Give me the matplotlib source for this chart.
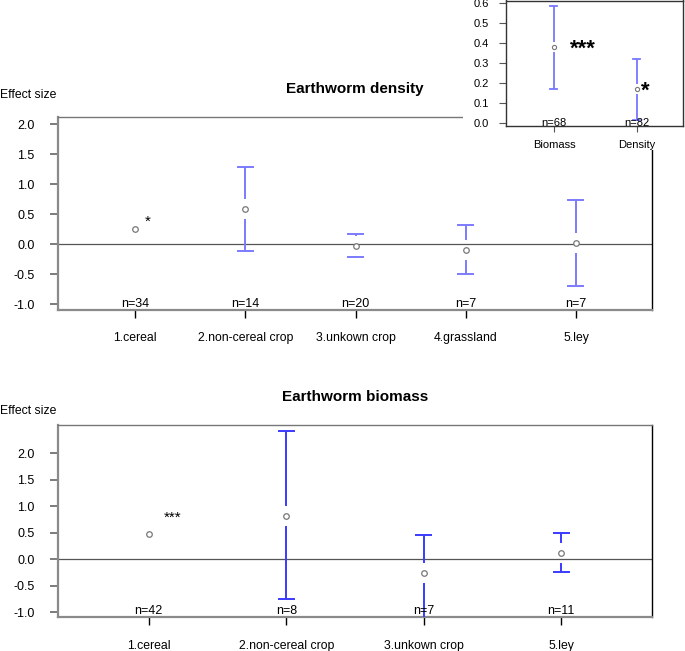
import matplotlib
matplotlib.use('Agg')
import matplotlib.pyplot as plt
import numpy as np
from matplotlib.transforms import blended_transform_factory
from matplotlib.patches import Rectangle

plt.rcParams['font.family'] = ['Liberation Sans', 'DejaVu Sans']

# ---------------- data ----------------
dens_cats = ['1.cereal', '2.non-cereal crop', '3.unkown crop', '4.grassland', '5.ley']
dens_mean = [0.25, 0.59, -0.04, -0.10, 0.02]
dens_lo = [0.09, -0.115, -0.22, -0.50, -0.70]
dens_hi = [0.41, 1.29, 0.16, 0.31, 0.73]
dens_n = [34, 14, 20, 7, 7]
dens_sig = ['*', '', '', '', '']

bio_cats = ['1.cereal', '2.non-cereal crop', '3.unkown crop', '5.ley']
bio_mean = [0.48, 0.81, -0.27, 0.12]
bio_lo = [0.30, -0.75, -1.25, -0.245]
bio_hi = [0.66, 2.41, 0.45, 0.50]
bio_n = [42, 8, 7, 11]
bio_sig = ['***', '', '', '']

ov_cats = ['Biomass', 'Density']
ov_mean = [0.38, 0.17]
ov_lo = [0.168, 0.016]
ov_hi = [0.584, 0.319]
ov_n = [68, 82]
ov_sig = ['***', '*']

W, H = 685, 651
fig = plt.figure(figsize=(W / 100, H / 100), dpi=100)


def draw_ci(ax, x, mean, lo, hi, gap_px, color, capw_px, lw):
    inv = ax.transData.inverted()
    ylo_lim = ax.get_ylim()[0]
    for xi, m, l, h in zip(x, mean, lo, hi):
        px, py = ax.transData.transform((xi, m))
        _, up_start = inv.transform((px, py + gap_px))
        _, dn_start = inv.transform((px, py - gap_px))
        xl = inv.transform((px - capw_px / 2, py))[0]
        xr = inv.transform((px + capw_px / 2, py))[0]
        if h > up_start:
            ax.plot([xi, xi], [up_start, h], color=color, lw=lw, zorder=3,
                    solid_capstyle='butt')
            ax.plot([xl, xr], [h, h], color=color, lw=lw, zorder=3)
        if l < dn_start:
            ax.plot([xi, xi], [dn_start, max(l, ylo_lim)], color=color, lw=lw, zorder=3,
                    solid_capstyle='butt')
            if l >= ylo_lim:
                ax.plot([xl, xr], [l, l], color=color, lw=lw, zorder=3)


def setup_main(ax, cats, ylim, xlim, title):
    x = np.arange(1, len(cats) + 1)
    ax.set_xlim(*xlim)
    ax.set_ylim(*ylim)
    ax.set_xticks(x)
    ax.set_xticklabels(cats, fontsize=8.8)
    ax.set_yticks([-1.0, -0.5, 0.0, 0.5, 1.0, 1.5, 2.0])
    ax.set_yticklabels(['-1.0', '-0.5', '0.0', '0.5', '1.0', '1.5', '2.0'], fontsize=9)
    ax.tick_params(axis='y', length=6, width=1.2, color='#666666', pad=11)
    ax.tick_params(axis='x', length=6, width=1.0, color='black', pad=10)
    for s in ['left', 'bottom']:
        ax.spines[s].set_color('#8a8a8a')
        ax.spines[s].set_linewidth(1.6)
    ax.spines['top'].set_color('#777777')
    ax.spines['top'].set_linewidth(1.0)
    ax.spines['right'].set_color('black')
    ax.spines['right'].set_linewidth(1.0)
    ax.axhline(0, color='#555555', lw=0.9, zorder=1)
    ax.set_title(title, fontsize=11, fontweight='bold', pad=17)
    return x


# ---------- Top panel: density ----------
ax1 = fig.add_axes([58 / W, 1 - 310 / H, (652 - 58) / W, (310 - 117) / H])
x1 = setup_main(ax1, dens_cats, (-1.1, 2.12), (0.3, 5.69), 'Earthworm density')
ax1.plot(x1, dens_mean, 'o', mfc='white', mec='#777777', ms=4, mew=0.9, zorder=4)
draw_ci(ax1, x1, dens_mean, dens_lo, dens_hi, 10, '#7b7bff', 15, 1.4)
tr1 = blended_transform_factory(ax1.transData, ax1.transAxes)
for xi, n in zip(x1, dens_n):
    ax1.text(xi, 0.03, f'n={n}', transform=tr1, ha='center', va='center', fontsize=9)
for xi, m, s in zip(x1, dens_mean, dens_sig):
    if s:
        ax1.text(xi + 0.11, m + 0.13, s, ha='center', va='center', fontsize=11)
fig.text(0.0, 1 - 95 / H, 'Effect size', fontsize=8.8, ha='left', va='center')

# ---------- Bottom panel: biomass ----------
ax2 = fig.add_axes([58 / W, 1 - 617.3 / H, (652 - 58) / W, (617.3 - 425) / H])
x2 = setup_main(ax2, bio_cats, (-1.1, 2.53), (0.34, 4.66), 'Earthworm biomass')
ax2.plot(x2, bio_mean, 'o', mfc='white', mec='#777777', ms=4, mew=0.9, zorder=4)
draw_ci(ax2, x2, bio_mean, bio_lo, bio_hi, 10, '#3a3aff', 15, 1.4)
tr2 = blended_transform_factory(ax2.transData, ax2.transAxes)
for xi, n in zip(x2, bio_n):
    ax2.text(xi, 0.033, f'n={n}', transform=tr2, ha='center', va='center', fontsize=9)
for xi, m, s in zip(x2, bio_mean, bio_sig):
    if s:
        ax2.text(xi + 0.17, m + 0.30, s, ha='center', va='center', fontsize=11)
fig.text(0.0, 1 - 411 / H, 'Effect size', fontsize=8.8, ha='left', va='center')

# ---------- white region behind inset ----------
fig.patches.append(Rectangle((463 / W, 1 - 150 / H), 1 - 463 / W, 150 / H,
                             transform=fig.transFigure, facecolor='white',
                             edgecolor='none', zorder=5))

# ---------- Inset: overall ----------
ax3 = fig.add_axes([506 / W, 1 - 125.7 / H, (683 - 506) / W, 125.2 / H])
ax3.set_zorder(10)
xo = np.arange(1, len(ov_cats) + 1)
ax3.set_xlim(0.42, 2.56)
ax3.set_ylim(-0.012, 0.61)
ax3.set_xticks(xo)
ax3.set_xticklabels(ov_cats, fontsize=8)
ax3.set_yticks([0.0, 0.1, 0.2, 0.3, 0.4, 0.5, 0.6])
ax3.set_yticklabels(['0.0', '0.1', '0.2', '0.3', '0.4', '0.5', '0.6'], fontsize=8)
ax3.tick_params(axis='y', length=5, width=0.8, color='#555555', pad=7)
ax3.tick_params(axis='x', length=4, width=0.8, color='#555555', pad=6)
for s in ax3.spines.values():
    s.set_color('#333333')
    s.set_linewidth(1.0)
ax3.plot(xo, ov_mean, 'o', mfc='white', mec='#777777', ms=3, mew=0.8, zorder=4)
draw_ci(ax3, xo, ov_mean, ov_lo, ov_hi, 5, '#7777ff', 7, 1.3)
tr3 = blended_transform_factory(ax3.transData, ax3.transAxes)
for xi, n in zip(xo, ov_n):
    ax3.text(xi, 0.025, f'n={n}', transform=tr3, ha='center', va='center', fontsize=8)
for xi, m, s in zip(xo, ov_mean, ov_sig):
    if s:
        off = 0.35 if len(s) > 1 else 0.11
        ax3.text(xi + off, m - 0.012, s, ha='center', va='center', fontsize=16,
                 fontweight='bold')

fig.savefig('out.png', dpi=100)
